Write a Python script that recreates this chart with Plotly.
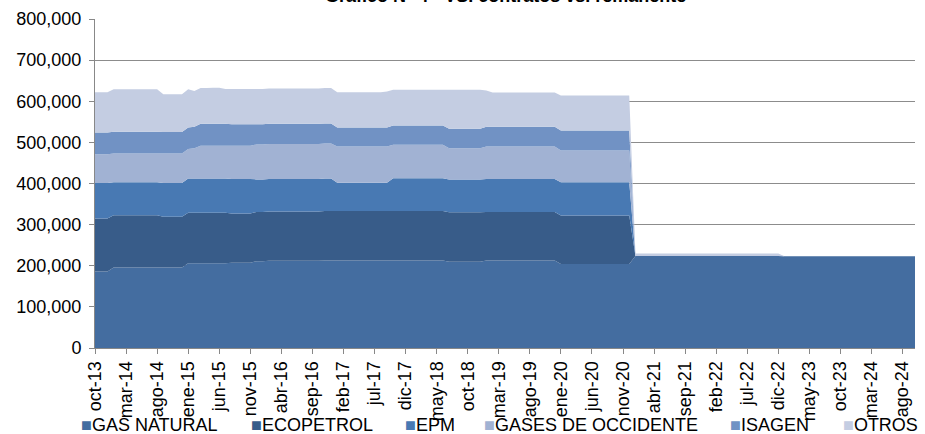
"""
Grafico N 4 - contratos vs. remanente : area apilada mensual, oct-13 a oct-24
"""

import plotly.graph_objects as go

# meses (oct-13 ... oct-24)
MESES_ES = ['ene', 'feb', 'mar', 'abr', 'may', 'jun', 'jul', 'ago', 'sep', 'oct', 'nov', 'dic']
meses = []
for anio in range(2013, 2025):
    for i, mes in enumerate(MESES_ES):
        if (anio == 2013 and i < 9) or (anio == 2024 and i > 9):
            continue
        meses.append(f"{mes}-{str(anio)[2:]}")

# valores en miles, cada fila arranca en octubre
gas_natural = [
    186, 186, 186, 196, 196, 196, 196, 196, 196, 196, 196, 196,
    196, 196, 196, 206, 206, 206, 206, 206, 206, 206, 207, 207,
    207, 207, 211, 211, 212, 212, 212, 212, 212, 212, 212, 212,
    212, 213, 213, 213, 213, 213, 213, 213, 213, 213, 213, 213,
    213, 213, 213, 213, 213, 213, 213, 213, 213, 210, 210, 210,
    210, 210, 210, 213, 213, 213, 213, 213, 213, 213, 213, 213,
    213, 213, 213, 204, 204, 204, 204, 204, 204, 204, 204, 204,
    204, 204, 204, 224, 224, 224, 224, 224, 224, 224, 224, 224,
    224, 224, 224, 224, 224, 224, 224, 224, 224, 224, 224, 224,
    224, 224, 224, 223, 223, 223, 223, 223, 223, 223, 223, 223,
    223, 223, 223, 223, 223, 223, 223, 223, 223, 223, 223, 223, 223,
]
ecopetrol = [
    129, 129, 129, 127, 127, 127, 127, 127, 127, 127, 127, 123,
    123, 123, 123, 123, 123, 123, 123, 123, 123, 123, 120, 120,
    120, 120, 120, 120, 120, 120, 120, 120, 120, 120, 120, 120,
    120, 120, 120, 120, 120, 120, 120, 120, 120, 120, 120, 120,
    120, 120, 120, 120, 120, 120, 120, 120, 120, 120, 120, 120,
    120, 120, 120, 118, 118, 118, 118, 118, 118, 118, 118, 118,
    118, 118, 118, 118, 118, 118, 118, 118, 118, 118, 118, 118,
    118, 118, 118, 0, 0, 0, 0, 0, 0, 0, 0, 0,
    0, 0, 0, 0, 0, 0, 0, 0, 0, 0, 0, 0,
    0, 0, 0, 0, 0, 0, 0, 0, 0, 0, 0, 0,
    0, 0, 0, 0, 0, 0, 0, 0, 0, 0, 0, 0, 0,
]
epm = [
    86, 86, 86, 80, 80, 80, 80, 80, 80, 80, 80, 82,
    82, 82, 82, 83, 83, 83, 83, 83, 83, 83, 84, 84,
    84, 84, 79, 79, 79, 79, 79, 79, 79, 79, 79, 79,
    79, 79, 79, 69, 69, 69, 69, 69, 69, 69, 69, 69,
    80, 80, 80, 80, 80, 80, 80, 80, 80, 80, 80, 80,
    80, 80, 80, 80, 80, 80, 80, 80, 80, 80, 80, 80,
    80, 80, 80, 81, 81, 81, 81, 81, 81, 81, 81, 81,
    81, 81, 81, 0, 0, 0, 0, 0, 0, 0, 0, 0,
    0, 0, 0, 0, 0, 0, 0, 0, 0, 0, 0, 0,
    0, 0, 0, 0, 0, 0, 0, 0, 0, 0, 0, 0,
    0, 0, 0, 0, 0, 0, 0, 0, 0, 0, 0, 0, 0,
]
gases_occidente = [
    70, 70, 70, 70, 70, 70, 70, 70, 70, 70, 70, 72,
    72, 72, 72, 72, 74, 80, 80, 80, 80, 80, 81, 81,
    81, 81, 85, 85, 85, 85, 85, 85, 85, 85, 85, 85,
    85, 85, 85, 88, 88, 88, 88, 88, 88, 88, 88, 88,
    81, 81, 81, 81, 81, 81, 81, 81, 81, 76, 76, 76,
    76, 76, 76, 79, 79, 79, 79, 79, 79, 79, 79, 79,
    79, 79, 79, 77, 77, 77, 77, 77, 77, 77, 77, 77,
    77, 77, 77, 0, 0, 0, 0, 0, 0, 0, 0, 0,
    0, 0, 0, 0, 0, 0, 0, 0, 0, 0, 0, 0,
    0, 0, 0, 0, 0, 0, 0, 0, 0, 0, 0, 0,
    0, 0, 0, 0, 0, 0, 0, 0, 0, 0, 0, 0, 0,
]
isagen = [
    53, 53, 53, 53, 53, 53, 53, 53, 53, 53, 53, 52,
    52, 52, 52, 52, 52, 53, 53, 53, 53, 53, 52, 52,
    52, 52, 49, 49, 49, 49, 49, 49, 49, 49, 49, 49,
    49, 49, 49, 46, 46, 46, 46, 46, 46, 46, 46, 46,
    47, 47, 47, 47, 47, 47, 47, 47, 47, 47, 47, 47,
    47, 47, 47, 48, 48, 48, 48, 48, 48, 48, 48, 48,
    48, 48, 48, 49, 49, 49, 49, 49, 49, 49, 49, 49,
    49, 49, 49, 0, 0, 0, 0, 0, 0, 0, 0, 0,
    0, 0, 0, 0, 0, 0, 0, 0, 0, 0, 0, 0,
    0, 0, 0, 0, 0, 0, 0, 0, 0, 0, 0, 0,
    0, 0, 0, 0, 0, 0, 0, 0, 0, 0, 0, 0, 0,
]
otros = [
    98, 98, 98, 103, 103, 103, 103, 103, 103, 103, 103, 92,
    92, 92, 92, 93, 87, 87, 87, 88, 88, 85, 86, 86,
    86, 86, 86, 86, 86, 86, 86, 86, 86, 86, 86, 86,
    86, 86, 86, 86, 86, 86, 86, 86, 86, 86, 86, 88,
    87, 87, 87, 87, 87, 87, 87, 87, 87, 95, 95, 95,
    95, 95, 95, 88, 83, 83, 83, 83, 83, 83, 83, 83,
    83, 83, 83, 85, 85, 85, 85, 85, 85, 85, 85, 85,
    85, 85, 85, 6, 6, 6, 6, 6, 6, 6, 6, 6,
    6, 6, 6, 6, 6, 6, 6, 6, 6, 6, 6, 6,
    6, 6, 6, 0, 0, 0, 0, 0, 0, 0, 0, 0,
    0, 0, 0, 0, 0, 0, 0, 0, 0, 0, 0, 0, 0,
]

series = ['GAS NATURAL', 'ECOPETROL', 'EPM', 'GASES DE OCCIDENTE', 'ISAGEN', 'OTROS']
valores = [gas_natural, ecopetrol, epm, gases_occidente, isagen, otros]
colores = ['#446da0', '#385c89', '#4879b3', '#a1b2d3', '#7192c4', '#c4cde2']

etiquetas_x = meses[::5]

W, H = 925, 434
ML, MR, MT, MB = 95, 10, 19, 86
ancho_plot = W - ML - MR
alto_plot = H - MT - MB

fig = go.Figure()

for nombre, vals, color in zip(series, valores, colores):
    fig.add_trace(go.Scatter(x=meses, y=[v * 1000 for v in vals], name=nombre,
                             stackgroup='uno', mode='none', fillcolor=color,
                             line=dict(width=0), showlegend=False))

# leyenda abajo, cuadrito de color + nombre (como en excel)
pos_leyenda = [79, 249, 403, 482, 728, 841]   # px desde el borde izquierdo
for nombre, color, px in zip(series, colores, pos_leyenda):
    fig.add_annotation(text=f'<span style="color:{color}">■</span>{nombre}',
                       xref='paper', yref='paper',
                       x=(px - ML) / ancho_plot, y=-(425 - (H - MB)) / alto_plot,
                       xanchor='left', yanchor='middle', showarrow=False,
                       font=dict(size=18, color='black'))

# titulo cortado arriba, como en la imagen original
fig.add_annotation(text="<b>Gráfico N° 4 - VS. contratos vs. remanente</b>",
                   xref='paper', yref='paper', x=0.5, y=1, yanchor='bottom',
                   yshift=11, showarrow=False, font=dict(size=18, color='black'))

fig.update_layout(
    width=W, height=H,
    margin=dict(l=ML, r=MR, t=MT, b=MB, autoexpand=False),
    plot_bgcolor='white', paper_bgcolor='white',
    font=dict(family='Liberation Sans, Arial', size=18, color='black'),
    showlegend=False,
)

fig.update_xaxes(type='category', range=[0, len(meses) - 1],
                 tickmode='array', tickvals=etiquetas_x, tickangle=-90,
                 ticks='outside', ticklen=5, tickcolor='#888888',
                 showline=True, linecolor='#888888', showgrid=False,
                 tickfont=dict(size=18))
fig.update_yaxes(range=[0, 800000], dtick=100000, tickformat=',d',
                 ticks='outside', ticklen=5, tickcolor='#888888',
                 showline=True, linecolor='#888888',
                 showgrid=True, gridcolor='#8c8c8c', gridwidth=1,
                 tickfont=dict(size=18), ticklabelstandoff=4, zeroline=False)

# sin margen en el body para que el grafico quede pegado al borde
fig.write_html("out.html", config={'displayModeBar': False},
               post_script="document.body.style.margin='0';")
